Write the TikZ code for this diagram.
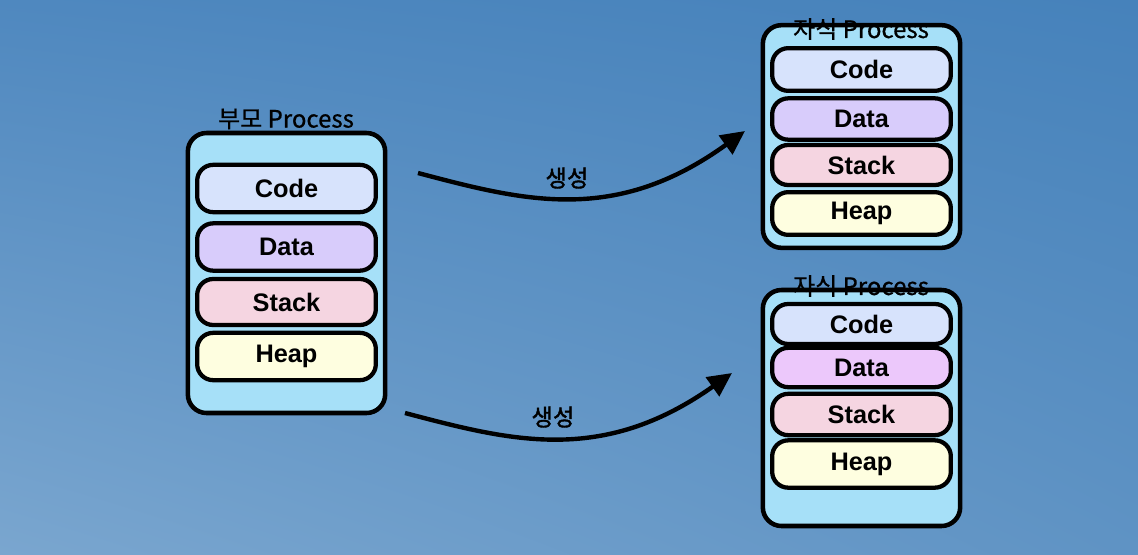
\documentclass[tikz,border=0pt]{standalone}
\usepackage{fontspec}
\setmainfont{Liberation Sans}
\newfontfamily\kofont[FakeBold=0.6]{Noto Sans CJK KR}
\newfontfamily\kofontheavy[FakeBold=1.6]{Noto Sans CJK KR}
\usetikzlibrary{arrows.meta,shadings}
\definecolor{bgtl}{HTML}{4F88BF}
\definecolor{bgtr}{HTML}{4682BB}
\definecolor{bgbl}{HTML}{7AA6CF}
\definecolor{bgbr}{HTML}{5F93C4}
\definecolor{boxblue}{HTML}{A6E0F8}
\definecolor{codeblue}{HTML}{D7E3FC}
\definecolor{datapurple}{HTML}{D8CCFB}
\definecolor{datapink}{HTML}{ECC8FB}
\definecolor{stackpink}{HTML}{F5D5E1}
\definecolor{heapyellow}{HTML}{FEFEE0}

\begin{document}
\begin{tikzpicture}[x=0.75pt,y=-0.75pt,
  procbox/.style={draw, line width=3.4pt, fill=boxblue, rounded corners=14pt, minimum width=148pt, inner sep=0pt},
  seg/.style={draw, line width=3.2pt, rounded corners=12pt, minimum width=134pt, inner sep=0pt, font=\bfseries\fontsize{19}{19}\selectfont},
  proctitle/.style={font=\kofont\fontsize{18}{18}\selectfont, inner sep=0pt},
  spawnlabel/.style={font=\kofontheavy\fontsize{17.5}{17.5}\selectfont, inner sep=0pt},
  spawn/.style={line width=3.3pt, -{Triangle[length=18pt,width=17pt]}}]
\shade [upper left=bgtl, upper right=bgtr, lower left=bgbl, lower right=bgbr] (0,0) rectangle (1138,554);
\useasboundingbox (0,0) rectangle (1138,554);

\node [procbox, minimum height=210pt] (parent) at (286.5,273) {};
\node [seg, fill=codeblue, minimum height=35.5pt] (pcode) at (286.5,188.5) {Code};
\node [seg, fill=datapurple, minimum height=35.5pt] (pdata) at (286.5,247) {Data};
\node [seg, fill=stackpink, minimum height=34.5pt] (pstack) at (286.5,302) {Stack};
\node [seg, fill=heapyellow, minimum height=35.5pt] (pheap) at (286.5,356.5) {Heap};
\node [proctitle] (ptitle) at (286,119) {부모 Process};

\node [procbox, minimum height=167pt] (childa) at (861.5,136.5) {};
\node [seg, fill=codeblue, minimum height=32pt] (acode) at (861.5,69.5) {Code};
\node [seg, fill=datapurple, minimum height=31pt] (adata) at (861.5,119) {Data};
\node [seg, fill=stackpink, minimum height=30pt] (astack) at (861.5,165) {Stack};
\node [seg, fill=heapyellow, minimum height=32pt] (aheap) at (861.5,213.5) {Heap};
\node [proctitle] (atitle) at (861,29) {자식 Process};

\node [procbox, minimum height=177pt] (childb) at (861.5,408) {};
\node [seg, fill=codeblue, minimum height=30pt] (bcode) at (861.5,324) {Code};
\node [seg, fill=datapink, minimum height=29.5pt] (bdata) at (861.5,367.5) {Data};
\node [seg, fill=stackpink, minimum height=31pt] (bstack) at (861.5,414.5) {Stack};
\node [seg, fill=heapyellow, minimum height=35.5pt] (bheap) at (861.5,464) {Heap};
\node [proctitle] (btitle) at (861,286) {자식 Process};

\coordinate (fromA) at (418,173);
\coordinate (toA) at (745,131);
\coordinate (fromB) at (405,413);
\coordinate (toB) at (732,373);
\draw [spawn] (fromA) .. controls (524,201) and (615,225) .. (toA);
\draw [spawn] (fromB) .. controls (511,441) and (602,465) .. (toB);
\node [spawnlabel] (labelA) at (567,178) {생성};
\node [spawnlabel] (labelB) at (553,417) {생성};
\end{tikzpicture}
\end{document}
